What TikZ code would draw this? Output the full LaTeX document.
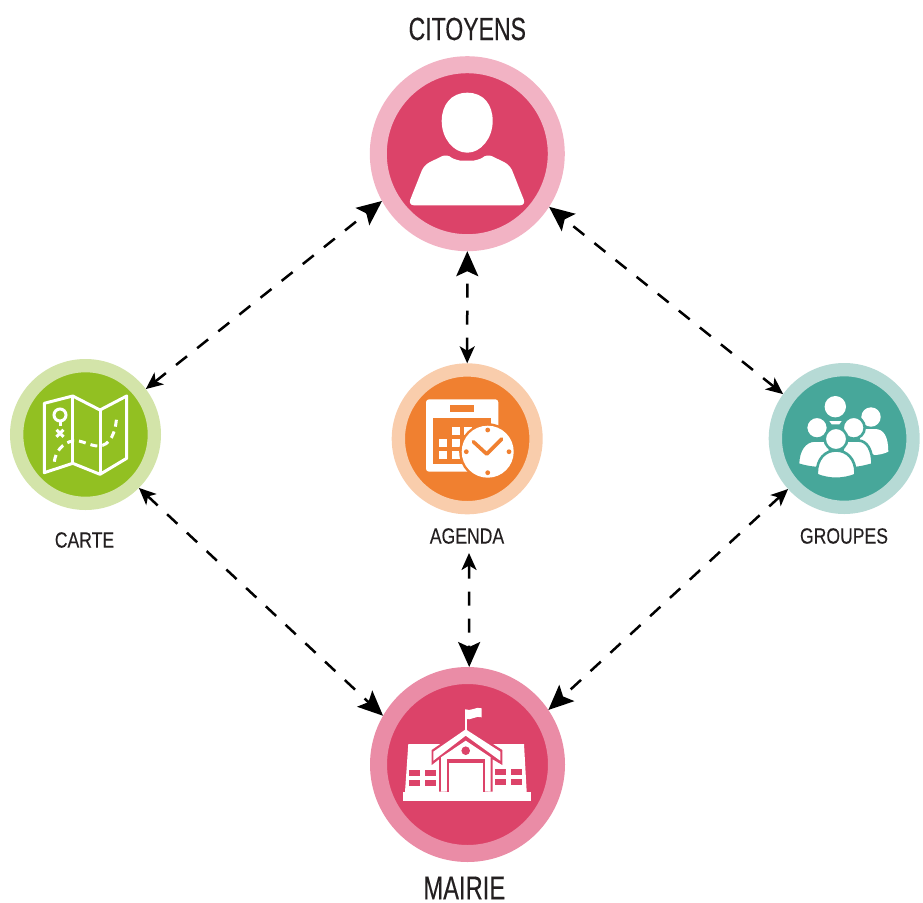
\documentclass[tikz,border=0pt]{standalone}
\usepackage{fontspec}
\newfontfamily\bigtitle{Liberation Sans}[FakeStretch=0.72, FakeBold=0.25]
\newfontfamily\smalltitle{Liberation Sans}[FakeStretch=0.8, FakeBold=0.2]
\usetikzlibrary{arrows.meta}
\definecolor{rosepale}{HTML}{F2B3C4}
\definecolor{rosemid}{HTML}{EA8CA6}
\definecolor{rosedark}{HTML}{DC4369}
\definecolor{greenpale}{HTML}{D3E4A9}
\definecolor{greendark}{HTML}{92C022}
\definecolor{orangepale}{HTML}{F9CDAC}
\definecolor{orangedark}{HTML}{F08030}
\definecolor{tealpale}{HTML}{B6DAD5}
\definecolor{tealdark}{HTML}{47A79A}
\definecolor{inkgrey}{HTML}{231F20}
\tikzset{
  bighub/.style={circle, inner sep=0pt, line width=17pt, minimum size=178pt},
  smallhub/.style={circle, inner sep=0pt, line width=13.3pt, minimum size=137.7pt},
  biglabel/.style={inner sep=0pt, text=inkgrey, font=\bigtitle\fontsize{32}{36}\selectfont},
  smalllabel/.style={inner sep=0pt, text=inkgrey, font=\smalltitle\fontsize{22}{26}\selectfont},
  link/.style={black, line width=2.5pt, dash pattern=on 14pt off 13pt,
    {Stealth[length=17pt, width=15pt, inset=4.5pt]}-{Stealth[length=25pt, width=22pt, inset=5pt]}},
  mapline/.style={white, line width=3pt},
}
\begin{document}
\begin{tikzpicture}[x=1pt, y=-1pt]
    \useasboundingbox (0,0) rectangle (923,902);

    \node[bighub, draw=rosepale, fill=rosedark] (citoyens) at (467.3,153.7) {};
    \node[bighub, draw=rosemid, fill=rosedark] (mairie) at (467.5,764.5) {};
    \node[smallhub, draw=greenpale, fill=greendark] (carte) at (85.5,434.5) {};
    \node[smallhub, draw=orangepale, fill=orangedark] (agenda) at (467.2,438.8) {};
    \node[smallhub, draw=tealpale, fill=tealdark] (groupes) at (844.2,438.5) {};

    \node[biglabel] (citoyenslabel) at (467.3,29) {CITOYENS};
    \node[biglabel, font=\bigtitle\fontsize{33}{36}\selectfont] (mairielabel) at (464.3,888) {MAIRIE};
    \node[smalllabel] (cartelabel) at (84.5,540) {CARTE};
    \node[smalllabel] (agendalabel) at (467,536) {AGENDA};
    \node[smalllabel] (groupeslabel) at (844,536) {GROUPES};

    \draw[link] (carte.37) -- (citoyens.209);
    \draw[link] (agenda.north) -- (citoyens.south);
    \draw[link] (groupes.144) -- (citoyens.-33);
    \draw[link] (carte.-45) -- (mairie.150);
    \draw[link, shorten <=9pt] ([xshift=2pt]agendalabel.south) -- (mairie.89);
    \draw[link] (groupes.222) -- (mairie.34);

    % citoyens
    \fill[white] (467.3,92.7) .. controls (484,92.7) and (492.7,105) .. (492.7,121)
      .. controls (492.7,138) and (481,152.7) .. (467.3,152.7)
      .. controls (453,152.7) and (441.7,138) .. (441.7,121)
      .. controls (441.7,105) and (451,92.7) .. (467.3,92.7) -- cycle;
    \fill[white, rounded corners=6pt] (447.3,153.6) .. controls (453,159) and (460,160.7) .. (466.7,160.7)
      .. controls (474,160.7) and (481,159) .. (486.7,153.6)
      -- (510,165) -- (526,205.3) -- (408,205.3) -- (424,165) -- cycle;

    % carte
    \draw[mapline, line join=round] (44.3,403.3) -- (72.7,396) -- (100,410) -- (126.7,396)
      -- (126.7,458.3) -- (100,474.3) -- (72.7,463.3) -- (44.3,472.7) -- cycle;
    \draw[mapline] (72.7,396) -- (72.7,463.3);
    \draw[mapline] (100,410) -- (100,474.3);
    \draw[mapline] (60,415) circle (6);
    \draw[mapline] (60,421) -- (60,426);
    \draw[mapline] (56.5,429.8) -- (63.5,436.8);
    \draw[mapline] (63.5,429.8) -- (56.5,436.8);
    \draw[mapline, dash pattern=on 7pt off 5pt] (54.3,461.7)
      .. controls (55.5,452) and (62,443) .. (73.3,440.7)
      .. controls (82,440) and (90,446) .. (98.3,446)
      .. controls (110,446) and (116,433) .. (116.7,415);

    % agenda
    \fill[white, rounded corners=3pt] (426,399.3) rectangle (498.3,471.7);
    \fill[orangedark] (450,405) rectangle (474.3,411.7);
    \fill[orangedark] (432.7,417.7) rectangle (491,464.3);
    \foreach \gx/\gy in {451.7/426.7, 464.3/426.7, 439/439, 451.7/439, 464.3/439, 439/451, 451.7/451}
      \fill[white] (\gx,\gy) rectangle +(8,8);
    \fill[orangedark] (487.7,451.7) circle (28.5);
    \fill[white] (487.7,451.7) circle (26);
    \foreach \gx/\gy in {487.7/430, 509/451.7, 487.7/472.7, 466.3/451.7}
      \fill[orangedark] (\gx,\gy) circle (2.4);
    \draw[orangedark, line width=3.6pt, line cap=round, line join=round] (473.3,441.7) -- (486.7,454) -- (501.7,439);

    % groupes
    \fill[white] (835.3,406.7) circle (10.7);
    \fill[white] (829.3,421) -- (841.7,421) -- (839.3,424.3) -- (831.7,424.3) -- cycle;
    \fill[white] (871,417) circle (9.7);
    \fill[white] (860,429) -- (875,429) .. controls (884,429) and (888.3,437) .. (888.3,451.7)
      .. controls (884,453.7) and (880,454.7) .. (875,455) -- (860,450) -- cycle;
    \filldraw[white, draw=tealdark, line width=2.6pt] (845,440.5) -- (858,440.5)
      .. controls (867,440.5) and (872.5,450) .. (872.5,464.5)
      .. controls (867,466) and (861,467.5) .. (856,468) -- (840,460) -- cycle;
    \filldraw[white, draw=tealdark, line width=2.6pt] (853.7,427.7) circle (11);
    \filldraw[white, draw=tealdark, line width=2.6pt] (828,440.5) -- (815,440.5)
      .. controls (805,440.5) and (798,450) .. (798,464.5)
      .. controls (803,466) and (809,467.5) .. (816,468) -- (832,460) -- cycle;
    \filldraw[white, draw=tealdark, line width=2.6pt] (817,427.7) circle (11);
    \filldraw[white, draw=tealdark, line width=2.6pt] (836,450.5) .. controls (847,450.5) and (855.5,459) .. (855.5,473)
      -- (855.5,475) .. controls (843,480) and (829,480) .. (816.8,475) -- (816.8,473)
      .. controls (816.8,459) and (825,450.5) .. (836,450.5) -- cycle;
    \filldraw[white, draw=tealdark, line width=2.6pt] (836,439) circle (11.3);

    % mairie
    \fill[white] (403.3,791.7) rectangle (531,801);
    \fill[white] (408.3,744) -- (445,744) -- (445,792) -- (405,792) -- cycle;
    \fill[white] (488,744) -- (524,744) -- (526.7,792) -- (488,792) -- cycle;
    \foreach \gx/\gy in {408.7/770, 424.7/770, 408.7/780, 424.7/780, 495/769.3, 511/769.3, 495/779.3, 511/779.3}
      \fill[rosedark] (\gx,\gy) rectangle +(11.3,6);
    \fill[rosedark] (465.7,726.7) -- (502.3,750) -- (502.3,765) -- (492.7,759.3) -- (492.7,791.7)
      -- (439,791.7) -- (439,759.3) -- (431.7,765) -- (431.7,750) -- cycle;
    \fill[white] (465.7,729.3) -- (500.3,751.7) -- (500.3,760.7) -- (465.7,735.7)
      -- (433.3,760.7) -- (433.3,751.7) -- cycle;
    \fill[white] (465.7,740.7) -- (490.7,757.3) -- (490.7,791.7) -- (441,791.7) -- (441,757.3) -- cycle;
    \fill[rosedark] (465.7,750.7) circle (4.3);
    \fill[rosedark] (447.3,759.3) rectangle (485,791.7);
    \fill[white] (449.3,762.7) rectangle (482.7,791.7);
    \draw[white, line width=1.5pt] (466,717) -- (466,730);
    \fill[white] (465,709.3) .. controls (471,712) and (476,706) .. (481.7,708.3) -- (481.7,717.3)
      .. controls (476,715) and (471,721) .. (465,719) -- cycle;
\end{tikzpicture}
\end{document}
